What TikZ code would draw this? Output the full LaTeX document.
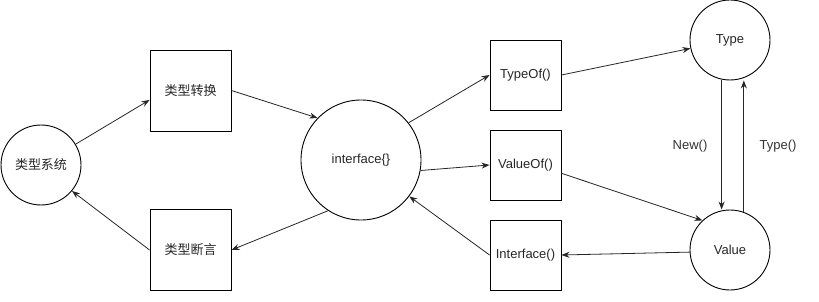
\documentclass[tikz,border=0pt]{standalone}
\usepackage{fontspec}
\setmainfont{Liberation Sans}
\newfontfamily\cjk{Noto Sans CJK SC}
\usetikzlibrary{arrows.meta}
\begin{document}
\begin{tikzpicture}[x=1pt,y=-1pt,
  every node/.style={font=\fontsize{13}{15}\selectfont, text=black!85},
  circ/.style={draw, circle, line width=0.9pt, minimum size=80pt, inner sep=0pt},
  bigcirc/.style={circ, minimum size=120pt},
  sq/.style={draw, rectangle, line width=0.9pt, minimum width=81pt, minimum height=81pt, inner sep=0pt},
  sqs/.style={draw, rectangle, line width=0.9pt, minimum width=71pt, minimum height=70pt, inner sep=0pt},
  conn/.style={-{Stealth[length=8pt,width=6pt]}, line width=0.8pt, black!85},
  lbl/.style={font=\fontsize{13}{15}\selectfont, text=black!80}
]
\useasboundingbox (0,0) rectangle (819,302);
\node[circ] (sys) at (41,165) {\cjk 类型系统};
\node[sq] (conv) at (190.5,90.5) {\cjk 类型转换};
\node[sq] (assert) at (190.5,250) {\cjk 类型断言};
\node[bigcirc] (inter) at (361,160) {interface\{\}};
\node[sqs] (typeof) at (525.5,75) {TypeOf()};
\node[sqs] (valueof) at (525.5,165) {ValueOf()};
\node[sqs] (iface) at (525.5,255) {Interface()};
\node[circ] (type) at (730,40) {Type};
\node[circ] (value) at (730,250) {Value};

\draw[conn] (sys.31) -- (conv.193);
\draw[conn] (conv.east) -- (inter.136);
\draw[conn] (inter.237) -- (assert.east);
\draw[conn] (assert.west) -- (sys.320);
\draw[conn] (inter.38) -- (typeof.west);
\draw[conn] (inter.350) -- (valueof.west);
\draw[conn] (valueof.347) -- (value.133);
\draw[conn] (value.183) -- (iface.east);
\draw[conn] (iface.west) -- (inter.323);
\draw[conn] (typeof.east) -- (type.192);
\draw[conn] (type.258) -- (type.258 |- value.north);
\draw[conn] (value.70) -- (value.70 |- type.south);

\node[lbl] (newlbl) at (690,146) {New()};
\node[lbl] (typelbl) at (778,146) {Type()};
\end{tikzpicture}
\end{document}
